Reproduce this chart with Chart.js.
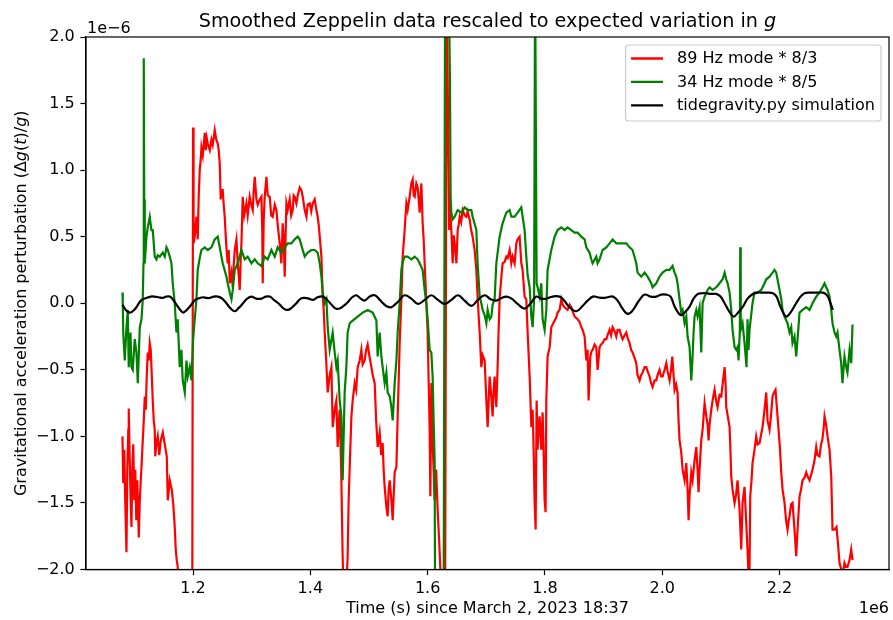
<!DOCTYPE html>
<html>
<head>
<meta charset="utf-8">
<script src="https://cdn.jsdelivr.net/npm/chart.js@4.4.1/dist/chart.umd.min.js"></script>
<style>
  html, body { margin: 0; padding: 0; background: #fff; }
  #c { display: block; }
</style>
</head>
<body>
<canvas id="c" width="893" height="620" style="width:893px;height:620px"></canvas>
<script>
// Time in units of 1e6 s since March 2, 2023 18:37; values in units of 1e-6 (Δg/g)
const xTicks = [1.2, 1.4, 1.6, 1.8, 2.0, 2.2];
const yTicks = [-2.0, -1.5, -1.0, -0.5, 0.0, 0.5, 1.0, 1.5, 2.0];
const seriesNames = ["89 Hz mode * 8/3", "34 Hz mode * 8/5", "tidegravity.py simulation"];

const red89 = [
[1.0797,-1.00],[1.0810,-1.35],[1.0827,-1.10],[1.0844,-1.48],[1.0865,-1.87],[1.0879,-1.25],[1.0896,-0.95],[1.0904,-0.79],
[1.0921,-1.18],[1.0938,-1.51],[1.0950,-1.68],[1.0964,-1.25],[1.0981,-1.06],[1.0998,-1.48],[1.1015,-1.25],[1.1032,-1.63],
[1.1049,-1.33],[1.1063,-1.55],[1.1075,-1.76],[1.1092,-1.48],[1.1109,-1.33],[1.1121,-1.23],[1.1143,-1.03],[1.1160,-0.88],
[1.1177,-0.70],[1.1194,-0.80],[1.1211,-0.54],[1.1228,-0.37],[1.1245,-0.43],[1.1262,-0.30],[1.1279,-0.35],[1.1291,-0.48],
[1.1313,-0.73],[1.1330,-0.88],[1.1347,-0.95],[1.1356,-1.15],[1.1373,-1.06],[1.1398,-1.00],[1.1424,-1.14],[1.1450,-1.03],
[1.1484,-0.97],[1.1518,-1.06],[1.1552,-1.15],[1.1569,-1.48],[1.1603,-1.33],[1.1637,-1.40],[1.1663,-1.51],[1.1688,-1.68],
[1.1705,-1.85],[1.1722,-1.93],[1.1739,-1.98],[1.1756,-2.15],[1.1859,-2.50],[1.1986,-2.50],[1.2000,1.32],[1.2009,0.45],
[1.2029,0.50],[1.2046,0.59],[1.2058,0.65],[1.2080,0.48],[1.2097,0.81],[1.2114,1.00],[1.2131,1.08],[1.2143,1.17],
[1.2166,1.11],[1.2200,1.28],[1.2217,1.15],[1.2234,1.24],[1.2251,1.20],[1.2285,1.15],[1.2314,1.23],[1.2336,1.19],
[1.2370,1.30],[1.2395,1.23],[1.2421,1.20],[1.2438,1.15],[1.2455,1.05],[1.2472,0.78],[1.2484,0.85],[1.2506,0.85],
[1.2523,0.74],[1.2540,0.65],[1.2557,0.51],[1.2569,0.42],[1.2591,0.30],[1.2608,0.40],[1.2626,0.15],[1.2655,0.23],
[1.2677,0.12],[1.2694,0.29],[1.2711,0.40],[1.2740,0.48],[1.2762,0.30],[1.2779,0.21],[1.2796,0.10],[1.2813,0.33],
[1.2825,0.45],[1.2847,0.80],[1.2873,0.66],[1.2910,0.75],[1.2932,0.66],[1.2966,0.80],[1.2992,0.74],[1.3018,0.70],
[1.3035,0.85],[1.3052,0.95],[1.3081,0.78],[1.3103,0.74],[1.3137,0.78],[1.3166,0.80],[1.3180,0.55],[1.3188,0.15],
[1.3205,0.63],[1.3222,0.80],[1.3251,0.95],[1.3273,0.81],[1.3307,0.80],[1.3333,0.66],[1.3358,0.65],[1.3393,0.74],
[1.3421,0.70],[1.3443,0.59],[1.3478,0.45],[1.3506,0.30],[1.3528,0.60],[1.3546,0.48],[1.3563,0.20],[1.3580,0.55],
[1.3592,0.75],[1.3614,0.70],[1.3648,0.78],[1.3674,0.66],[1.3699,0.70],[1.3716,0.81],[1.3733,0.80],[1.3762,0.75],
[1.3785,0.81],[1.3819,0.87],[1.3848,0.85],[1.3870,0.80],[1.3904,0.70],[1.3933,0.65],[1.3955,0.74],[1.3989,0.75],
[1.4015,0.69],[1.4040,0.75],[1.4074,0.78],[1.4103,0.70],[1.4125,0.65],[1.4142,0.59],[1.4160,0.50],[1.4189,0.35],
[1.4211,0.05],[1.4228,-0.05],[1.4245,-0.22],[1.4270,-0.43],[1.4296,-0.67],[1.4330,-0.54],[1.4359,-0.48],[1.4381,-0.93],
[1.4415,-0.80],[1.4444,-0.73],[1.4466,-1.08],[1.4483,-0.91],[1.4500,-0.80],[1.4526,-1.25],[1.4551,-1.90],[1.4568,-2.20],
[1.4602,-2.30],[1.4636,-1.90],[1.4653,-1.48],[1.4671,-1.23],[1.4700,-0.85],[1.4722,-0.73],[1.4756,-0.60],[1.4781,-0.65],
[1.4807,-0.48],[1.4841,-0.43],[1.4870,-0.35],[1.4892,-0.46],[1.4926,-0.43],[1.4952,-0.35],[1.4977,-0.31],[1.5012,-0.41],
[1.5041,-0.48],[1.5063,-0.54],[1.5097,-0.60],[1.5122,-0.88],[1.5148,-1.08],[1.5182,-0.97],[1.5208,-1.14],[1.5233,-1.05],
[1.5250,-1.25],[1.5267,-1.38],[1.5296,-1.53],[1.5318,-1.60],[1.5335,-1.40],[1.5353,-1.33],[1.5382,-1.48],[1.5404,-1.63],
[1.5421,-1.44],[1.5438,-1.27],[1.5467,-1.23],[1.5489,-0.85],[1.5506,-0.58],[1.5523,-0.30],[1.5552,0.03],[1.5574,0.35],
[1.5608,0.55],[1.5637,0.75],[1.5659,0.70],[1.5693,0.80],[1.5722,0.90],[1.5745,0.93],[1.5762,0.81],[1.5779,0.80],
[1.5807,0.90],[1.5830,0.87],[1.5847,0.78],[1.5864,0.68],[1.5893,0.90],[1.5915,0.60],[1.5932,0.48],[1.5949,0.30],
[1.5978,0.00],[1.6000,-0.22],[1.6017,-0.58],[1.6034,-0.93],[1.6046,-1.45],[1.6063,-0.60],[1.6085,-1.05],[1.6102,-1.25],
[1.6119,-1.48],[1.6145,-1.25],[1.6170,-1.55],[1.6196,-1.78],[1.6222,-2.05],[1.6247,-2.30],[1.6298,-2.30],[1.6324,2.50],
[1.6350,1.30],[1.6367,0.55],[1.6384,0.70],[1.6404,0.55],[1.6427,0.30],[1.6444,0.51],[1.6461,0.45],[1.6490,0.30],
[1.6512,0.55],[1.6529,0.59],[1.6546,0.65],[1.6571,0.61],[1.6597,0.70],[1.6631,0.66],[1.6660,0.65],[1.6682,0.69],
[1.6716,0.63],[1.6742,0.55],[1.6767,0.50],[1.6801,0.40],[1.6830,0.25],[1.6852,0.05],[1.6869,-0.09],[1.6887,-0.22],
[1.6915,-0.48],[1.6938,-0.39],[1.6972,-0.43],[1.7001,-0.73],[1.7023,-0.93],[1.7040,-0.73],[1.7057,-0.55],[1.7083,-0.69],
[1.7108,-0.85],[1.7125,-0.65],[1.7142,-0.55],[1.7171,-0.78],[1.7193,-0.48],[1.7210,-0.20],[1.7227,0.03],[1.7253,0.18],
[1.7278,0.30],[1.7312,0.31],[1.7341,0.35],[1.7364,0.34],[1.7398,0.40],[1.7427,0.30],[1.7449,0.35],[1.7483,0.30],
[1.7512,0.45],[1.7534,0.48],[1.7568,0.50],[1.7597,0.30],[1.7619,0.25],[1.7653,0.05],[1.7682,0.03],[1.7705,-0.22],
[1.7739,-0.55],[1.7768,-0.93],[1.7790,-0.80],[1.7807,-1.10],[1.7824,-1.50],[1.7841,-1.70],[1.7858,-0.73],[1.7875,-1.10],
[1.7892,-0.95],[1.7909,-0.85],[1.7938,-1.10],[1.7960,-0.82],[1.7977,-1.10],[1.7994,-1.48],[1.8011,-1.57],[1.8023,-0.73],
[1.8045,-0.40],[1.8080,-0.33],[1.8108,-0.18],[1.8131,-0.16],[1.8165,-0.13],[1.8190,-0.11],[1.8216,-0.07],[1.8250,-0.05],
[1.8279,0.03],[1.8301,-0.01],[1.8335,-0.03],[1.8386,-0.05],[1.8420,-0.01],[1.8449,-0.03],[1.8471,-0.06],[1.8506,-0.10],
[1.8557,-0.12],[1.8591,-0.14],[1.8620,-0.18],[1.8642,-0.20],[1.8676,-0.25],[1.8705,-0.43],[1.8727,-0.35],[1.8744,-0.73],
[1.8773,-0.40],[1.8795,-0.36],[1.8812,-0.35],[1.8846,-0.31],[1.8875,-0.33],[1.8898,-0.50],[1.8932,-0.33],[1.8957,-0.31],
[1.8983,-0.30],[1.9017,-0.27],[1.9046,-0.27],[1.9068,-0.24],[1.9102,-0.20],[1.9128,-0.24],[1.9153,-0.18],[1.9188,-0.21],
[1.9216,-0.25],[1.9239,-0.20],[1.9273,-0.20],[1.9298,-0.24],[1.9324,-0.27],[1.9358,-0.24],[1.9387,-0.22],[1.9409,-0.26],
[1.9443,-0.30],[1.9469,-0.35],[1.9494,-0.37],[1.9528,-0.41],[1.9557,-0.45],[1.9579,-0.54],[1.9614,-0.58],[1.9639,-0.54],
[1.9665,-0.52],[1.9699,-0.48],[1.9728,-0.48],[1.9750,-0.51],[1.9784,-0.55],[1.9810,-0.60],[1.9835,-0.63],[1.9869,-0.58],
[1.9898,-0.58],[1.9920,-0.54],[1.9954,-0.50],[1.9980,-0.55],[2.0006,-0.55],[2.0040,-0.50],[2.0069,-0.45],[2.0091,-0.51],
[2.0125,-0.58],[2.0150,-0.50],[2.0171,-0.40],[2.0193,-0.54],[2.0210,-0.65],[2.0236,-0.61],[2.0261,-0.67],[2.0278,-0.88],
[2.0295,-1.03],[2.0324,-1.12],[2.0347,-1.25],[2.0381,-1.33],[2.0410,-1.20],[2.0432,-1.40],[2.0449,-1.63],[2.0466,-1.44],
[2.0495,-1.27],[2.0517,-1.33],[2.0551,-1.18],[2.0580,-1.08],[2.0602,-1.25],[2.0619,-1.42],[2.0636,-1.25],[2.0665,-1.03],
[2.0688,-0.95],[2.0722,-0.75],[2.0751,-0.85],[2.0773,-0.91],[2.0790,-1.03],[2.0807,-0.91],[2.0836,-0.80],[2.0858,-0.73],
[2.0892,-0.65],[2.0918,-0.73],[2.0943,-0.78],[2.0977,-0.69],[2.1006,-0.70],[2.1029,-0.61],[2.1063,-0.48],[2.1080,-0.61],
[2.1091,-0.78],[2.1114,-0.84],[2.1148,-0.93],[2.1165,-1.14],[2.1176,-1.30],[2.1199,-1.40],[2.1233,-1.50],[2.1258,-1.44],
[2.1284,-1.33],[2.1318,-1.55],[2.1347,-1.85],[2.1369,-1.50],[2.1403,-1.38],[2.1432,-1.65],[2.1454,-1.85],[2.1471,-2.05],
[2.1488,-2.00],[2.1500,-1.45],[2.1522,-1.33],[2.1539,-1.20],[2.1573,-1.10],[2.1602,-1.00],[2.1625,-1.06],[2.1659,-1.05],
[2.1684,-0.99],[2.1710,-0.93],[2.1744,-0.80],[2.1773,-0.67],[2.1795,-0.88],[2.1829,-0.95],[2.1855,-0.84],[2.1880,-0.70],
[2.1906,-0.67],[2.1931,-0.65],[2.1957,-0.80],[2.1983,-0.95],[2.2008,-1.10],[2.2029,-1.27],[2.2051,-1.40],[2.2085,-1.50],
[2.2111,-1.63],[2.2136,-1.70],[2.2153,-1.64],[2.2170,-1.60],[2.2196,-1.51],[2.2221,-1.50],[2.2255,-1.70],[2.2284,-1.90],
[2.2307,-1.70],[2.2341,-1.45],[2.2366,-1.40],[2.2392,-1.33],[2.2426,-1.31],[2.2455,-1.27],[2.2477,-1.30],[2.2511,-1.33],
[2.2537,-1.29],[2.2562,-1.25],[2.2596,-1.18],[2.2625,-1.08],[2.2647,-1.14],[2.2681,-1.15],[2.2707,-1.06],[2.2728,-1.03],
[2.2750,-0.95],[2.2767,-0.85],[2.2793,-0.91],[2.2818,-1.00],[2.2852,-1.10],[2.2881,-1.30],[2.2903,-1.70],[2.2937,-1.70],
[2.2971,-1.68],[2.2997,-1.81],[2.3022,-1.95],[2.3051,-2.00],[2.3073,-2.05],[2.3107,-1.95],[2.3133,-1.98],[2.3158,-1.98],
[2.3193,-1.93],[2.3222,-1.85],[2.3244,-1.93]
];

const green34 = [
[1.0797,0.08],[1.0802,0.00],[1.0810,-0.22],[1.0836,-0.43],[1.0865,-0.18],[1.0887,-0.05],[1.0904,-0.48],[1.0933,-0.22],
[1.0950,-0.48],[1.0972,-0.50],[1.1006,-0.27],[1.1035,-0.37],[1.1058,-0.60],[1.1092,-0.18],[1.1121,-0.12],[1.1143,0.03],
[1.1155,0.30],[1.1160,1.84],[1.1168,0.78],[1.1177,0.30],[1.1206,0.50],[1.1228,0.57],[1.1262,0.65],[1.1291,0.55],
[1.1313,0.55],[1.1347,0.35],[1.1376,0.33],[1.1398,0.36],[1.1433,0.35],[1.1484,0.38],[1.1518,0.35],[1.1547,0.42],
[1.1569,0.40],[1.1603,0.35],[1.1632,0.30],[1.1654,0.15],[1.1688,0.00],[1.1717,-0.22],[1.1739,-0.12],[1.1773,-0.48],
[1.1802,-0.35],[1.1824,-0.58],[1.1859,-0.67],[1.1888,-0.43],[1.1910,-0.55],[1.1944,-0.48],[1.1973,-0.58],[1.2000,-0.28],
[1.2029,-0.12],[1.2058,0.03],[1.2080,0.25],[1.2114,0.34],[1.2143,0.40],[1.2200,0.42],[1.2251,0.40],[1.2314,0.42],
[1.2370,0.48],[1.2421,0.50],[1.2455,0.42],[1.2484,0.35],[1.2506,0.30],[1.2569,0.20],[1.2591,0.15],[1.2626,0.08],
[1.2655,0.03],[1.2677,0.10],[1.2711,0.25],[1.2762,0.30],[1.2825,0.40],[1.2881,0.33],[1.2932,0.35],[1.2996,0.30],
[1.3052,0.33],[1.3103,0.30],[1.3166,0.28],[1.3222,0.35],[1.3273,0.33],[1.3336,0.40],[1.3393,0.35],[1.3443,0.42],
[1.3506,0.38],[1.3563,0.42],[1.3614,0.45],[1.3677,0.45],[1.3733,0.48],[1.3785,0.50],[1.3819,0.48],[1.3870,0.40],
[1.3904,0.35],[1.3955,0.38],[1.4018,0.40],[1.4074,0.40],[1.4125,0.38],[1.4160,0.30],[1.4189,0.20],[1.4211,0.08],
[1.4245,0.00],[1.4274,0.03],[1.4296,-0.18],[1.4330,-0.35],[1.4381,-0.22],[1.4415,-0.37],[1.4444,-0.48],[1.4466,-0.43],
[1.4500,-0.73],[1.4529,-0.85],[1.4551,-1.33],[1.4585,-0.67],[1.4614,-0.48],[1.4636,-0.22],[1.4671,-0.15],[1.4722,-0.13],
[1.4807,-0.10],[1.4892,-0.07],[1.4977,-0.05],[1.5063,-0.07],[1.5126,-0.13],[1.5148,-0.40],[1.5182,-0.22],[1.5211,-0.40],
[1.5233,-0.48],[1.5267,-0.60],[1.5296,-0.52],[1.5318,-0.67],[1.5353,-0.70],[1.5382,-0.78],[1.5404,-0.88],[1.5438,-0.60],
[1.5467,-0.43],[1.5489,-0.22],[1.5523,0.00],[1.5552,0.25],[1.5574,0.31],[1.5608,0.35],[1.5659,0.35],[1.5722,0.33],
[1.5779,0.35],[1.5830,0.33],[1.5864,0.30],[1.5915,0.25],[1.5949,0.10],[1.5978,0.00],[1.6000,-0.12],[1.6034,-0.35],
[1.6063,-0.37],[1.6085,-0.55],[1.6102,-0.88],[1.6119,-1.18],[1.6127,-2.30],[1.6272,-2.50],[1.6298,2.50],[1.6358,2.50],
[1.6380,1.68],[1.6392,0.78],[1.6404,0.68],[1.6427,0.63],[1.6461,0.65],[1.6512,0.70],[1.6575,0.68],[1.6631,0.72],
[1.6682,0.70],[1.6745,0.70],[1.6767,0.65],[1.6830,0.55],[1.6852,0.30],[1.6887,0.05],[1.6915,0.00],[1.6938,-0.05],
[1.6972,-0.09],[1.7001,-0.15],[1.7023,-0.05],[1.7057,-0.12],[1.7086,-0.10],[1.7108,-0.01],[1.7142,0.03],[1.7171,0.30],
[1.7227,0.50],[1.7278,0.60],[1.7341,0.68],[1.7398,0.70],[1.7427,0.65],[1.7483,0.65],[1.7534,0.68],[1.7597,0.72],
[1.7619,0.65],[1.7653,0.55],[1.7682,0.35],[1.7705,0.21],[1.7739,0.12],[1.7768,-0.10],[1.7790,-0.18],[1.7815,0.03],
[1.7832,2.50],[1.7858,0.15],[1.7875,0.12],[1.7909,0.05],[1.7938,0.15],[1.7960,-0.12],[1.7994,-0.20],[1.8023,-0.05],
[1.8045,0.25],[1.8108,0.40],[1.8165,0.50],[1.8216,0.55],[1.8279,0.57],[1.8335,0.55],[1.8386,0.57],[1.8449,0.55],
[1.8506,0.53],[1.8557,0.53],[1.8620,0.50],[1.8676,0.48],[1.8705,0.42],[1.8761,0.38],[1.8790,0.33],[1.8812,0.30],
[1.8875,0.35],[1.8898,0.30],[1.8932,0.33],[1.8983,0.40],[1.9046,0.42],[1.9102,0.45],[1.9153,0.48],[1.9216,0.45],
[1.9273,0.45],[1.9324,0.45],[1.9387,0.45],[1.9443,0.42],[1.9494,0.40],[1.9557,0.30],[1.9579,0.23],[1.9642,0.20],
[1.9699,0.23],[1.9750,0.20],[1.9813,0.15],[1.9835,0.12],[1.9898,0.15],[1.9954,0.20],[2.0006,0.23],[2.0069,0.25],
[2.0125,0.25],[2.0176,0.28],[2.0210,0.23],[2.0239,0.20],[2.0261,0.15],[2.0295,0.03],[2.0324,-0.07],[2.0347,-0.05],
[2.0381,-0.15],[2.0410,-0.10],[2.0432,-0.25],[2.0466,-0.33],[2.0495,-0.58],[2.0517,-0.40],[2.0534,-0.22],[2.0551,-0.10],
[2.0580,-0.05],[2.0602,-0.10],[2.0636,-0.03],[2.0665,-0.37],[2.0688,0.00],[2.0722,0.05],[2.0773,0.10],[2.0807,0.12],
[2.0858,0.10],[2.0921,0.12],[2.0977,0.15],[2.1029,0.18],[2.1063,0.23],[2.1091,0.18],[2.1114,0.15],[2.1148,0.08],
[2.1176,-0.05],[2.1199,-0.20],[2.1233,-0.33],[2.1262,-0.35],[2.1284,-0.33],[2.1301,-0.43],[2.1323,-0.20],[2.1330,0.42],
[2.1338,-0.20],[2.1369,-0.15],[2.1403,-0.30],[2.1437,-0.48],[2.1454,-0.12],[2.1471,-0.35],[2.1488,-0.20],[2.1539,0.00],
[2.1573,0.08],[2.1625,0.08],[2.1687,0.10],[2.1744,0.15],[2.1773,0.18],[2.1829,0.20],[2.1880,0.23],[2.1914,0.25],
[2.1943,0.23],[2.1965,0.18],[2.2000,0.10],[2.2029,0.03],[2.2051,-0.05],[2.2085,-0.10],[2.2136,-0.15],[2.2170,-0.22],
[2.2199,-0.18],[2.2221,-0.30],[2.2255,-0.25],[2.2284,-0.40],[2.2307,-0.27],[2.2341,-0.07],[2.2392,-0.05],[2.2455,-0.03],
[2.2511,-0.05],[2.2562,0.00],[2.2625,0.05],[2.2681,0.08],[2.2733,0.12],[2.2767,0.15],[2.2796,0.12],[2.2818,0.10],
[2.2852,0.05],[2.2881,-0.05],[2.2903,-0.15],[2.2937,-0.22],[2.2966,-0.25],[2.2988,-0.22],[2.3022,-0.35],[2.3051,-0.45],
[2.3073,-0.60],[2.3107,-0.40],[2.3136,-0.48],[2.3158,-0.52],[2.3193,-0.35],[2.3222,-0.45],[2.3244,-0.16]
];

const tideSim = [
[1.0797,-0.01],[1.0853,-0.05],[1.0921,-0.07],[1.0972,-0.06],[1.1035,-0.03],[1.1109,0.02],[1.1206,0.04],[1.1279,0.05],
[1.1347,0.05],[1.1415,0.045],[1.1484,0.04],[1.1543,0.05],[1.1603,0.05],[1.1663,0.025],[1.1717,-0.01],[1.1773,-0.045],
[1.1830,-0.07],[1.1893,-0.05],[1.1973,-0.01],[1.2038,0.025],[1.2114,0.04],[1.2174,0.045],[1.2229,0.04],[1.2285,0.04],
[1.2353,0.05],[1.2426,0.05],[1.2498,0.035],[1.2569,0.00],[1.2642,-0.04],[1.2711,-0.06],[1.2779,-0.035],[1.2852,0.00],
[1.2924,0.035],[1.2996,0.05],[1.3077,0.035],[1.3166,0.035],[1.3239,0.05],[1.3307,0.05],[1.3393,0.02],[1.3478,-0.01],
[1.3546,-0.04],[1.3620,-0.05],[1.3691,-0.03],[1.3762,0.00],[1.3836,0.035],[1.3904,0.04],[1.3972,0.035],[1.4045,0.025],
[1.4125,0.045],[1.4216,0.05],[1.4288,0.025],[1.4359,-0.01],[1.4432,-0.04],[1.4500,-0.04],[1.4568,-0.02],[1.4642,0.01],
[1.4713,0.045],[1.4785,0.06],[1.4858,0.035],[1.4926,0.02],[1.5012,0.05],[1.5097,0.06],[1.5165,0.035],[1.5239,0.00],
[1.5310,-0.025],[1.5382,-0.03],[1.5455,-0.005],[1.5523,0.025],[1.5608,0.06],[1.5722,0.035],[1.5835,-0.005],[1.5949,0.025],
[1.6063,0.06],[1.6176,0.025],[1.6290,-0.005],[1.6404,0.025],[1.6517,0.06],[1.6631,0.02],[1.6745,-0.02],[1.6858,0.025],
[1.6972,0.06],[1.7074,0.03],[1.7171,0.02],[1.7261,0.04],[1.7347,0.05],[1.7432,0.035],[1.7534,-0.005],[1.7653,-0.04],
[1.7756,0.00],[1.7853,0.05],[1.7934,0.035],[1.8023,0.035],[1.8131,0.05],[1.8250,0.05],[1.8327,0.02],[1.8420,-0.03],
[1.8535,-0.06],[1.8642,-0.02],[1.8727,0.02],[1.8818,0.05],[1.8898,0.045],[1.8989,0.04],[1.9068,0.045],[1.9159,0.05],
[1.9239,0.02],[1.9324,-0.04],[1.9414,-0.08],[1.9503,-0.05],[1.9596,0.015],[1.9699,0.065],[1.9801,0.05],[1.9898,0.05],
[1.9980,0.065],[2.0069,0.065],[2.0142,0.05],[2.0210,-0.025],[2.0270,-0.07],[2.0324,-0.09],[2.0381,-0.07],[2.0466,-0.025],
[2.0534,0.035],[2.0607,0.07],[2.0679,0.075],[2.0750,0.075],[2.0832,0.07],[2.0921,0.07],[2.0994,0.05],[2.1063,0.00],
[2.1139,-0.06],[2.1216,-0.10],[2.1293,-0.07],[2.1375,-0.025],[2.1454,0.035],[2.1545,0.07],[2.1625,0.08],[2.1715,0.08],
[2.1795,0.08],[2.1886,0.075],[2.1949,0.05],[2.2000,-0.01],[2.2060,-0.07],[2.2114,-0.10],[2.2170,-0.08],[2.2284,0.00],
[2.2358,0.05],[2.2426,0.075],[2.2511,0.08],[2.2596,0.08],[2.2665,0.08],[2.2738,0.08],[2.2784,0.07],[2.2824,0.05],
[2.2869,0.00],[2.2909,-0.05]
];

const FONT = "'DejaVu Sans', 'Liberation Sans', sans-serif";
const toPts = arr => arr.map(p => ({ x: p[0], y: p[1] }));
const fmtY = v => (v < 0 ? '\u2212' : '') + Math.abs(v).toFixed(1);

function drawRich(ctx, parts, x, y, size, align) {
  let total = 0;
  const widths = parts.map(([t, style]) => {
    ctx.font = (style === 'italic' ? 'italic ' : '') + size + 'px ' + FONT;
    const w = ctx.measureText(t).width; total += w; return w;
  });
  let cx = align === 'center' ? x - total / 2 : (align === 'right' ? x - total : x);
  ctx.textAlign = 'left';
  parts.forEach(([t, style], i) => {
    ctx.font = (style === 'italic' ? 'italic ' : '') + size + 'px ' + FONT;
    ctx.fillText(t, cx, y);
    cx += widths[i];
  });
}

const decorations = {
  id: 'decorations',
  afterDraw(chart) {
    const { ctx, chartArea: a } = chart;
    ctx.save();
    // frame (all four spines)
    ctx.strokeStyle = '#000';
    ctx.lineWidth = 1.2;
    ctx.strokeRect(a.left, a.top, a.right - a.left, a.bottom - a.top);
    ctx.fillStyle = '#000';
    ctx.textBaseline = 'alphabetic';
    // title
    drawRich(ctx, [['Smoothed Zeppelin data rescaled to expected variation in ', 'normal'], ['g', 'italic']],
      (a.left + a.right) / 2, 26.5, 19.2, 'center');
    // offset texts
    drawRich(ctx, [['1e\u22126', 'normal']], a.left + 1, 33, 16, 'left');
    drawRich(ctx, [['1e6', 'normal']], a.right, 613, 16, 'right');
    // x label
    drawRich(ctx, [['Time (s) since March 2, 2023 18:37', 'normal']], (a.left + a.right) / 2, 613, 16, 'center');
    // y label
    ctx.save();
    ctx.translate(25.5, (a.top + a.bottom) / 2);
    ctx.rotate(-Math.PI / 2);
    drawRich(ctx, [['Gravitational acceleration perturbation (\u0394', 'normal'], ['g', 'italic'], ['(', 'normal'],
      ['t', 'italic'], [')/', 'normal'], ['g', 'italic'], [')', 'normal']], 0, 0, 16, 'center');
    ctx.restore();
    // legend
    const colors = ['#ff0000', '#008000', '#000000'];
    ctx.font = '16px ' + FONT;
    let maxW = 0;
    seriesNames.forEach(n => { maxW = Math.max(maxW, ctx.measureText(n).width); });
    const bw = 6.4 + 32 + 12.8 + maxW + 6.4;
    const bh = 76;
    const bx = a.right - 8 - bw;
    const by = a.top + 8;
    const r = 3;
    ctx.beginPath();
    ctx.moveTo(bx + r, by);
    ctx.lineTo(bx + bw - r, by); ctx.quadraticCurveTo(bx + bw, by, bx + bw, by + r);
    ctx.lineTo(bx + bw, by + bh - r); ctx.quadraticCurveTo(bx + bw, by + bh, bx + bw - r, by + bh);
    ctx.lineTo(bx + r, by + bh); ctx.quadraticCurveTo(bx, by + bh, bx, by + bh - r);
    ctx.lineTo(bx, by + r); ctx.quadraticCurveTo(bx, by, bx + r, by);
    ctx.closePath();
    ctx.fillStyle = 'rgba(255,255,255,0.8)';
    ctx.fill();
    ctx.strokeStyle = '#cccccc';
    ctx.lineWidth = 1.2;
    ctx.stroke();
    seriesNames.forEach((n, i) => {
      const yy = by + 13.5 + i * 23.4;
      ctx.strokeStyle = colors[i];
      ctx.lineWidth = 2.3;
      ctx.beginPath();
      ctx.moveTo(bx + 5.5, yy);
      ctx.lineTo(bx + 5.5 + 32, yy);
      ctx.stroke();
      ctx.fillStyle = '#000';
      ctx.textBaseline = 'middle';
      ctx.font = '16px ' + FONT;
      ctx.textAlign = 'left';
      ctx.fillText(n, bx + 51.5, yy + 0.5);
    });
    ctx.restore();
  }
};

const axisCommon = {
  type: 'linear',
  grid: { display: true, drawOnChartArea: false, drawTicks: true, tickLength: 5.6, tickColor: '#000', tickWidth: 1.2 },
  border: { display: true, color: '#000', width: 1.2 },
};

new Chart(document.getElementById('c'), {
  type: 'scatter',
  data: {
    datasets: [
      { label: seriesNames[0], data: toPts(red89), borderColor: '#ff0000', backgroundColor: '#ff0000',
        showLine: true, pointRadius: 0, borderWidth: 2.2, tension: 0, order: 3, clip: 0 },
      { label: seriesNames[1], data: toPts(green34), borderColor: '#008000', backgroundColor: '#008000',
        showLine: true, pointRadius: 0, borderWidth: 2.2, tension: 0, order: 2, clip: 0 },
      { label: seriesNames[2], data: toPts(tideSim), borderColor: '#000000', backgroundColor: '#000000',
        showLine: true, pointRadius: 0, borderWidth: 2.2, tension: 0.4, order: 1, clip: 0 }
    ]
  },
  options: {
    responsive: false,
    animation: false,
    events: [],
    layout: { padding: { left: 0, right: 4, top: 37, bottom: 0 } },
    plugins: { legend: { display: false }, tooltip: { enabled: false }, title: { display: false } },
    scales: {
      x: Object.assign({}, axisCommon, {
        min: 1.0175, max: 2.3866,
        afterBuildTicks: s => { s.ticks = xTicks.map(v => ({ value: v })); },
        afterFit: s => { s.height = 50.5; },
        ticks: { color: '#000', font: { family: FONT, size: 16 }, padding: 4, maxRotation: 0, autoSkip: false,
          callback: v => Number(v).toFixed(1) }
      }),
      y: Object.assign({}, axisCommon, {
        min: -2.0, max: 2.0,
        afterBuildTicks: s => { s.ticks = yTicks.map(v => ({ value: v })); },
        afterFit: s => { s.width = 86; },
        ticks: { color: '#000', font: { family: FONT, size: 16 }, padding: 5.6, autoSkip: false,
          callback: v => fmtY(Number(v)) }
      })
    }
  },
  plugins: [decorations]
});
</script>
</body>
</html>
